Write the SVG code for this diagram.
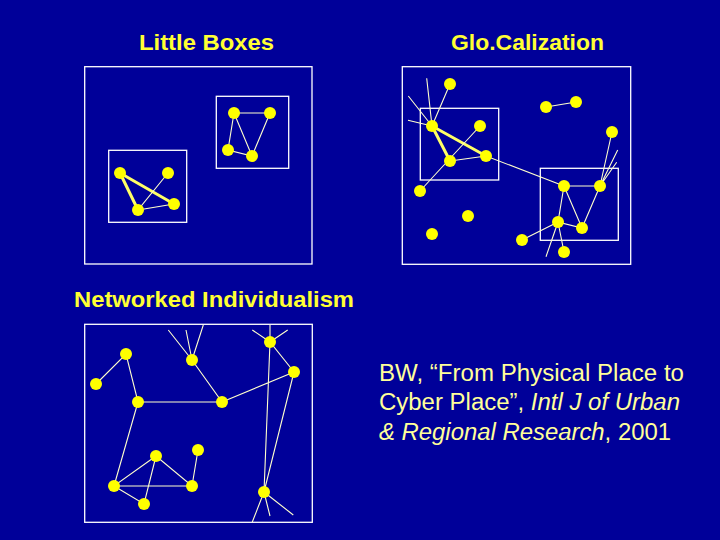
<svg xmlns="http://www.w3.org/2000/svg" width="720" height="540" viewBox="0 0 720 540">
<style>
.t{font-family:"Liberation Sans",Arial,sans-serif;font-size:22px;fill:#ffff33;font-weight:bold}
.c{font-family:"Liberation Sans",Arial,sans-serif;font-size:23px;fill:#ffff99}
.b{fill:none;stroke:#fff;stroke-width:1.3}
.n{fill:#ff0}
.l{stroke:#ffc;stroke-width:1.1;fill:none}
.k{stroke:#ff6;stroke-width:3;fill:none}
</style>
<rect width="720" height="540" fill="#000099"/>
<text class="t" x="139" y="50" textLength="135" lengthAdjust="spacingAndGlyphs">Little Boxes</text>
<text class="t" x="451" y="50" textLength="153" lengthAdjust="spacingAndGlyphs">Glo.Calization</text>
<text class="t" x="74" y="307" textLength="280" lengthAdjust="spacingAndGlyphs">Networked Individualism</text>
<text class="c" x="379" y="381" textLength="305" lengthAdjust="spacingAndGlyphs">BW, “From Physical Place to</text>
<text class="c" x="379" y="410" textLength="301" lengthAdjust="spacingAndGlyphs">Cyber Place”, <tspan font-style="italic">Intl J of Urban</tspan></text>
<text class="c" x="379" y="440" textLength="292" lengthAdjust="spacingAndGlyphs"><tspan font-style="italic">&amp; Regional Research</tspan>, 2001</text>
<g id="frames">
<rect class="b" x="84.7" y="66.7" width="227.3" height="197.3"/>
<rect class="b" x="108.7" y="150.3" width="78" height="72"/>
<rect class="b" x="216.3" y="96.3" width="72.4" height="72"/>
<rect class="b" x="402.3" y="66.7" width="228.4" height="197.6"/>
<rect class="b" x="420.3" y="108.3" width="78.4" height="71.7"/>
<rect class="b" x="540.3" y="168.3" width="78" height="72"/>
<rect class="b" x="84.7" y="324.3" width="227.6" height="198"/>
</g>
<g id="connectors">
<path class="k" d="M120 173L138 210M120 173L174 204"/>
<path class="l" d="M168 173L138 210L174 204M234 113L270 113L252 156L228 150L234 113L252 156"/>
<path class="k" d="M432 126L450 161M432 126L486 156"/>
<path class="l" d="M432 126L450 84M432 126L426.7 78.3M432 126L408.3 96M432 126L408 120.3M480 126L420 191M450 161L486 156L564 186M546 107L576 102M612 132L600 186L617.7 150M600 186L616.7 162.3M564 186L600 186L582 228L558 222L564 186L582 228M558 222L522 240M558 222L564 252M558 222L546 256.7"/>
<path class="l" d="M96 384L126 354L138 402L222 402L192 360M192 360L168.3 330M192 360L186 330M192 360L203.3 325M222 402L294 372L270 342L264 492M270 342L252.3 330M270 342L287.7 330M270 342L270 325M294 372L264 492L252.3 522M264 492L270 516M264 492L293.3 515M138 402L114 486L156 456L192 486L198 450M156 456L144 504L114 486L192 486"/>
</g>
<g id="nodes" class="n">
<circle cx="120" cy="173" r="6"/><circle cx="168" cy="173" r="6"/><circle cx="138" cy="210" r="6"/><circle cx="174" cy="204" r="6"/>
<circle cx="234" cy="113" r="6"/><circle cx="270" cy="113" r="6"/><circle cx="228" cy="150" r="6"/><circle cx="252" cy="156" r="6"/>
<circle cx="450" cy="84" r="6"/><circle cx="432" cy="126" r="6"/><circle cx="480" cy="126" r="6"/><circle cx="450" cy="161" r="6"/><circle cx="486" cy="156" r="6"/><circle cx="420" cy="191" r="6"/><circle cx="468" cy="216" r="6"/><circle cx="432" cy="234" r="6"/><circle cx="546" cy="107" r="6"/><circle cx="576" cy="102" r="6"/><circle cx="612" cy="132" r="6"/><circle cx="564" cy="186" r="6"/><circle cx="600" cy="186" r="6"/><circle cx="558" cy="222" r="6"/><circle cx="582" cy="228" r="6"/><circle cx="522" cy="240" r="6"/><circle cx="564" cy="252" r="6"/>
<circle cx="126" cy="354" r="6"/><circle cx="96" cy="384" r="6"/><circle cx="138" cy="402" r="6"/><circle cx="192" cy="360" r="6"/><circle cx="222" cy="402" r="6"/><circle cx="270" cy="342" r="6"/><circle cx="294" cy="372" r="6"/><circle cx="156" cy="456" r="6"/><circle cx="198" cy="450" r="6"/><circle cx="114" cy="486" r="6"/><circle cx="192" cy="486" r="6"/><circle cx="144" cy="504" r="6"/><circle cx="264" cy="492" r="6"/>
</g>
</svg>
